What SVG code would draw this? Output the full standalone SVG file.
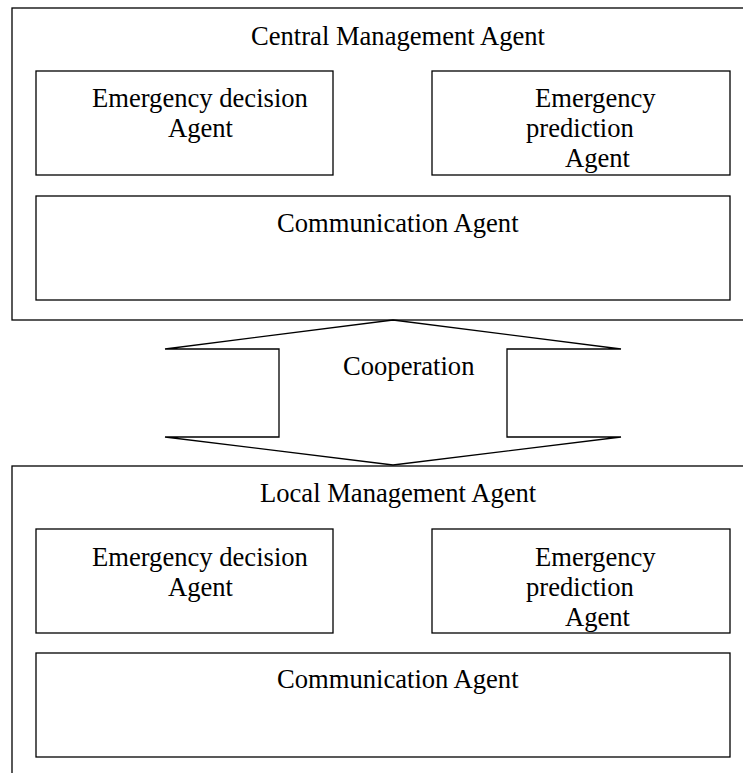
<svg xmlns="http://www.w3.org/2000/svg" width="743" height="773" viewBox="0 0 743 773">
<style>
rect,polygon{fill:none;stroke:#000;stroke-width:1.3}
text{font-family:"Liberation Serif","Times New Roman",serif;font-size:26.6px;fill:#000}
</style>
<rect x="0" y="0" width="743" height="773" style="fill:#fff;stroke:none"/>
<g id="central">
<rect x="12" y="8" width="740" height="312"/>
<text x="251" y="45">Central Management Agent</text>
</g>
<g id="central-decision">
<rect x="36" y="71" width="297" height="104"/>
<text x="92" y="107">Emergency decision</text>
<text x="168" y="137">Agent</text>
</g>
<g id="central-prediction">
<rect x="432" y="71" width="298" height="104"/>
<text x="535" y="107">Emergency</text>
<text x="526" y="137">prediction</text>
<text x="565" y="167">Agent</text>
</g>
<g id="central-comm">
<rect x="36" y="196" width="694" height="104"/>
<text x="277" y="232">Communication Agent</text>
</g>
<g id="connectors">
<polygon points="165,349 393,320 621,349 507,349 507,437 621,437 393,465 165,437 279,437 279,349"/>
<text x="343" y="375">Cooperation</text>
</g>
<g id="local">
<rect x="12" y="466" width="740" height="320"/>
<text x="260" y="502">Local Management Agent</text>
</g>
<g id="local-decision">
<rect x="36" y="529" width="297" height="104"/>
<text x="92" y="566">Emergency decision</text>
<text x="168" y="596">Agent</text>
</g>
<g id="local-prediction">
<rect x="432" y="529" width="298" height="104"/>
<text x="535" y="566">Emergency</text>
<text x="526" y="596">prediction</text>
<text x="565" y="626">Agent</text>
</g>
<g id="local-comm">
<rect x="36" y="653" width="694" height="104"/>
<text x="277" y="688">Communication Agent</text>
</g>
</svg>
